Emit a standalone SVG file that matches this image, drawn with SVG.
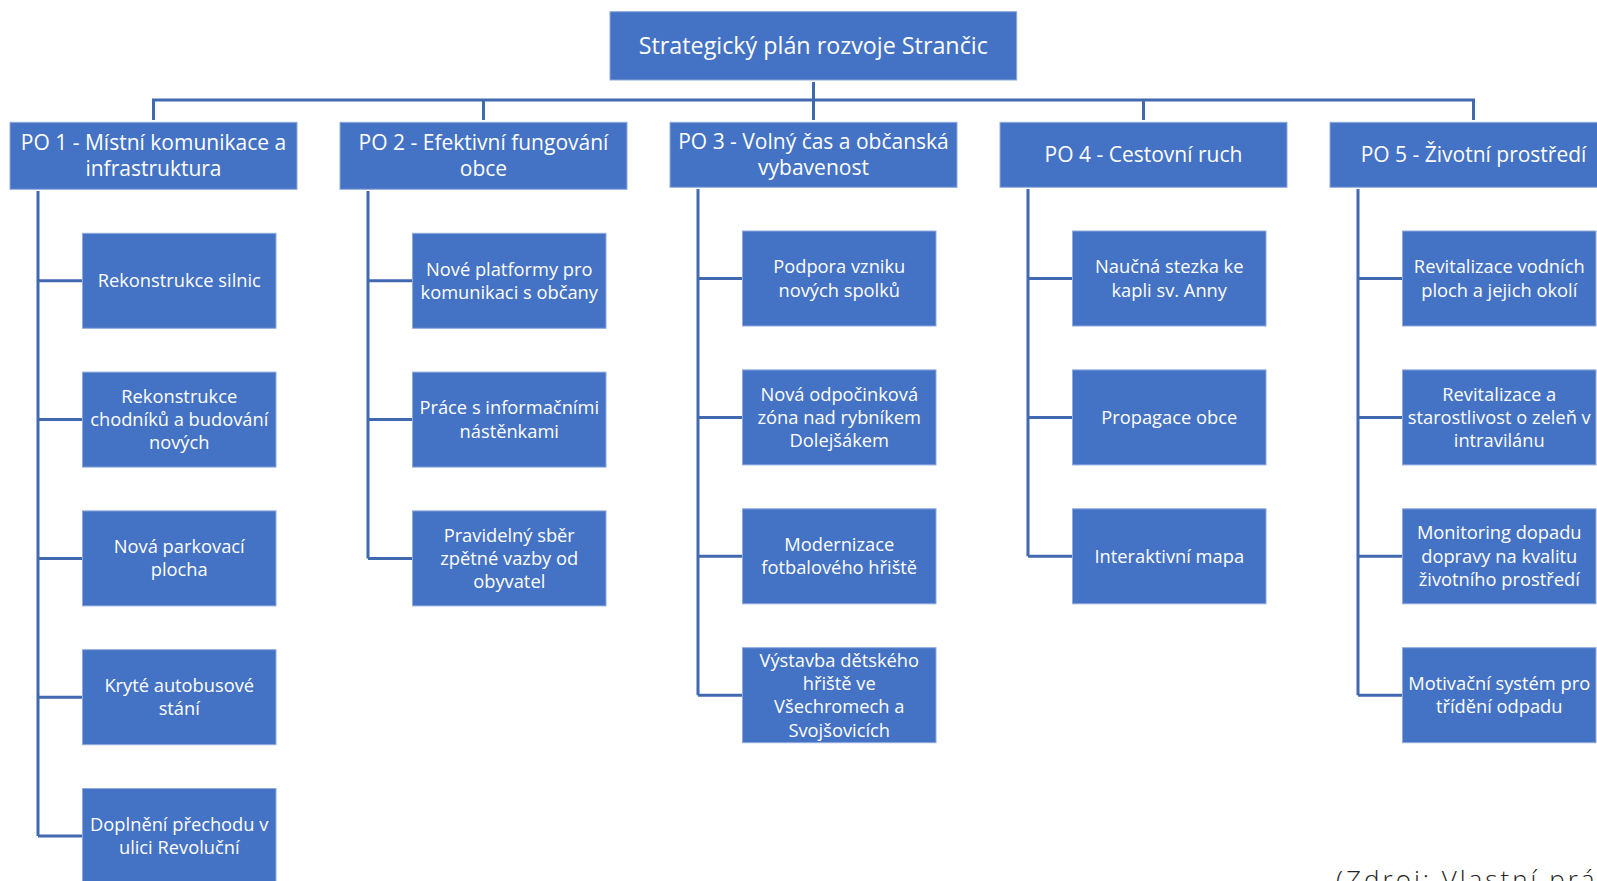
<svg xmlns="http://www.w3.org/2000/svg" width="1597" height="881" viewBox="0 0 1597 881">
<style>
.bx{fill:#4472C4;stroke:#8faadc;stroke-width:1}
.t{font-family:"Open Sans","Noto Sans","Liberation Sans",sans-serif;fill:#ffffff;text-anchor:middle}
.top{font-size:23.3px}
.po{font-size:21px}
.ch{font-size:18.3px}
.ln{fill:none;stroke:#4169b0;stroke-width:3}
.src{font-family:"Open Sans","Liberation Sans",sans-serif;font-weight:300;font-size:26px;fill:#222;letter-spacing:3px}
</style>
<rect width="1597" height="881" fill="#ffffff"/>
<g id="connectors">
<path class="ln" d="M813.5 82V120M153.5 120V100H1473.5V120M483.5 100V120M1143.5 100V120"/>
<path class="ln" d="M38 191V836M38 280.8H82.5M38 419.6H82.5M38 558.4H82.5M38 697.2H82.5M38 836H82.5"/>
<path class="ln" d="M368 191V558.4M368 280.8H412.5M368 419.6H412.5M368 558.4H412.5"/>
<path class="ln" d="M698 189V695.2M698 278.5H742.5M698 417.4H742.5M698 556.3H742.5M698 695.2H742.5"/>
<path class="ln" d="M1028 189V556.3M1028 278.5H1072.5M1028 417.4H1072.5M1028 556.3H1072.5"/>
<path class="ln" d="M1358 189V695.2M1358 278.5H1402.5M1358 417.4H1402.5M1358 556.3H1402.5M1358 695.2H1402.5"/>
</g>
<g id="root"><rect class="bx" x="610" y="11.7" width="406.7" height="68.3"/><text class="t top" x="813.3" y="53.8">Strategický plán rozvoje Strančic</text></g>
<g id="po1"><rect class="bx" x="10" y="122.3" width="287" height="67"/><text class="t po" x="153.5" y="150.15">PO 1 - Místní komunikace a<tspan x="153.5" dy="26">infrastruktura</tspan></text></g>
<g id="po2"><rect class="bx" x="340" y="122.3" width="287" height="67"/><text class="t po" x="483.5" y="150.15">PO 2 - Efektivní fungování<tspan x="483.5" dy="26">obce</tspan></text></g>
<g id="po3"><rect class="bx" x="670" y="122.3" width="287" height="65"/><text class="t po" x="813.5" y="149.15">PO 3 - Volný čas a občanská<tspan x="813.5" dy="26">vybavenost</tspan></text></g>
<g id="po4"><rect class="bx" x="1000" y="122.3" width="287" height="65"/><text class="t po" x="1143.5" y="162.15">PO 4 - Cestovní ruch</text></g>
<g id="po5"><rect class="bx" x="1330" y="122.3" width="287" height="65"/><text class="t po" x="1473.5" y="162.15">PO 5 - Životní prostředí</text></g>

<g id="c1-1"><rect class="bx" x="82.5" y="233.3" width="193.5" height="95"/><text class="t ch" x="179.25" y="287.2">Rekonstrukce silnic</text></g>
<g id="c1-2"><rect class="bx" x="82.5" y="372.1" width="193.5" height="95"/><text class="t ch" x="179.25" y="402.7">Rekonstrukce<tspan x="179.25" dy="23.3">chodníků a budování</tspan><tspan x="179.25" dy="23.3">nových</tspan></text></g>
<g id="c1-3"><rect class="bx" x="82.5" y="510.9" width="193.5" height="95"/><text class="t ch" x="179.25" y="553.15">Nová parkovací<tspan x="179.25" dy="23.3">plocha</tspan></text></g>
<g id="c1-4"><rect class="bx" x="82.5" y="649.7" width="193.5" height="95"/><text class="t ch" x="179.25" y="691.95">Kryté autobusové<tspan x="179.25" dy="23.3">stání</tspan></text></g>
<g id="c1-5"><rect class="bx" x="82.5" y="788.5" width="193.5" height="95"/><text class="t ch" x="179.25" y="830.75">Doplnění přechodu v<tspan x="179.25" dy="23.3">ulici Revoluční</tspan></text></g>

<g id="c2-1"><rect class="bx" x="412.5" y="233.3" width="193.5" height="95"/><text class="t ch" x="509.25" y="275.55">Nové platformy pro<tspan x="509.25" dy="23.3">komunikaci s občany</tspan></text></g>
<g id="c2-2"><rect class="bx" x="412.5" y="372.1" width="193.5" height="95"/><text class="t ch" x="509.25" y="414.35">Práce s informačními<tspan x="509.25" dy="23.3">nástěnkami</tspan></text></g>
<g id="c2-3"><rect class="bx" x="412.5" y="510.9" width="193.5" height="95"/><text class="t ch" x="509.25" y="541.5">Pravidelný sběr<tspan x="509.25" dy="23.3">zpětné vazby od</tspan><tspan x="509.25" dy="23.3">obyvatel</tspan></text></g>

<g id="c3-1"><rect class="bx" x="742.5" y="231" width="193.5" height="95"/><text class="t ch" x="839.25" y="273.25">Podpora vzniku<tspan x="839.25" dy="23.3">nových spolků</tspan></text></g>
<g id="c3-2"><rect class="bx" x="742.5" y="369.9" width="193.5" height="95"/><text class="t ch" x="839.25" y="400.5">Nová odpočinková<tspan x="839.25" dy="23.3">zóna nad rybníkem</tspan><tspan x="839.25" dy="23.3">Dolejšákem</tspan></text></g>
<g id="c3-3"><rect class="bx" x="742.5" y="508.8" width="193.5" height="95"/><text class="t ch" x="839.25" y="551.05">Modernizace<tspan x="839.25" dy="23.3">fotbalového hřiště</tspan></text></g>
<g id="c3-4"><rect class="bx" x="742.5" y="647.7" width="193.5" height="95"/><text class="t ch" x="839.25" y="666.65">Výstavba dětského<tspan x="839.25" dy="23.3">hřiště ve</tspan><tspan x="839.25" dy="23.3">Všechromech a</tspan><tspan x="839.25" dy="23.3">Svojšovicích</tspan></text></g>

<g id="c4-1"><rect class="bx" x="1072.5" y="231" width="193.5" height="95"/><text class="t ch" x="1169.25" y="273.25">Naučná stezka ke<tspan x="1169.25" dy="23.3">kapli sv. Anny</tspan></text></g>
<g id="c4-2"><rect class="bx" x="1072.5" y="369.9" width="193.5" height="95"/><text class="t ch" x="1169.25" y="423.8">Propagace obce</text></g>
<g id="c4-3"><rect class="bx" x="1072.5" y="508.8" width="193.5" height="95"/><text class="t ch" x="1169.25" y="562.7">Interaktivní mapa</text></g>

<g id="c5-1"><rect class="bx" x="1402.5" y="231" width="193.5" height="95"/><text class="t ch" x="1499.25" y="273.25">Revitalizace vodních<tspan x="1499.25" dy="23.3">ploch a jejich okolí</tspan></text></g>
<g id="c5-2"><rect class="bx" x="1402.5" y="369.9" width="193.5" height="95"/><text class="t ch" x="1499.25" y="400.5">Revitalizace a<tspan x="1499.25" dy="23.3">starostlivost o zeleň v</tspan><tspan x="1499.25" dy="23.3">intravilánu</tspan></text></g>
<g id="c5-3"><rect class="bx" x="1402.5" y="508.8" width="193.5" height="95"/><text class="t ch" x="1499.25" y="539.4">Monitoring dopadu<tspan x="1499.25" dy="23.3">dopravy na kvalitu</tspan><tspan x="1499.25" dy="23.3">životního prostředí</tspan></text></g>
<g id="c5-4"><rect class="bx" x="1402.5" y="647.7" width="193.5" height="95"/><text class="t ch" x="1499.25" y="689.95">Motivační systém pro<tspan x="1499.25" dy="23.3">třídění odpadu</tspan></text></g>

<text class="src" x="1336" y="889">(Zdroj: Vlastní práce)</text>
</svg>
